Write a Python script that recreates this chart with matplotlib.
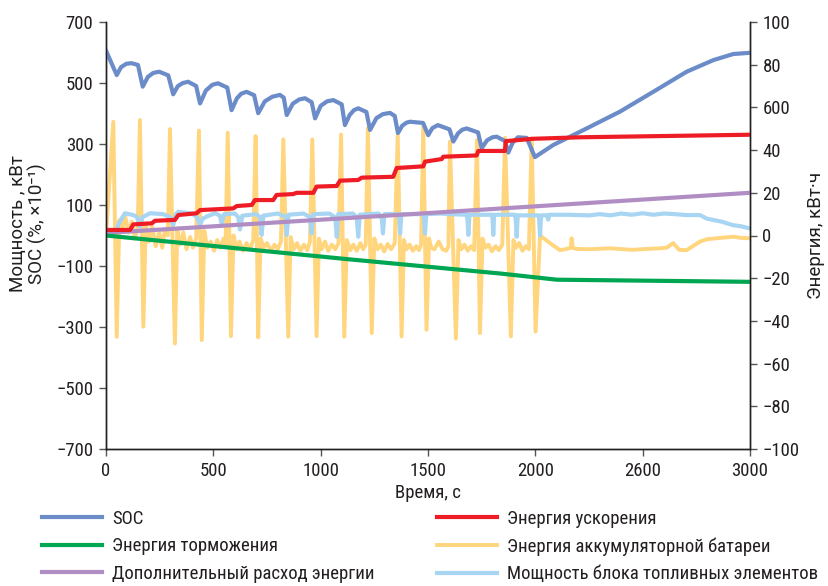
import matplotlib
matplotlib.use('Agg')
import matplotlib.pyplot as plt

plt.rcParams['font.family'] = ['Roboto Condensed', 'Roboto', 'DejaVu Sans']

# SOC (left axis)
soc_t = [0, 50, 70, 95, 119, 149, 171, 195, 220, 248, 290, 313, 335, 358, 383, 420, 438, 465, 495, 522,
         565, 585, 610, 630, 655, 690, 709, 740, 775, 810, 828, 842, 870, 900, 927, 958, 974, 1000, 1030,
         1059, 1098, 1113, 1135, 1155, 1175, 1213, 1230, 1260, 1290, 1323, 1345, 1360, 1380, 1400, 1416,
         1477, 1501, 1520, 1546, 1600, 1618, 1640, 1660, 1680, 1733, 1750, 1775, 1800, 1820, 1858, 1874,
         1895, 1919, 1960, 1998, 2084, 2239, 2394, 2549, 2705, 2829, 2922, 3000]
soc_v = [606, 526, 552, 563, 565, 559, 488, 520, 533, 537, 525, 463, 490, 500, 504, 490, 433, 475, 494, 499,
         485, 411, 450, 465, 471, 460, 401, 440, 455, 461, 452, 395, 432, 446, 450, 437, 384, 425, 440,
         444, 430, 362, 395, 411, 417, 405, 346, 385, 398, 402, 392, 336, 360, 370, 373,
         369, 329, 352, 362, 348, 308, 335, 347, 351, 338, 286, 312, 322, 324, 310, 272,
         305, 322, 320, 257, 297, 351, 406, 471, 537, 575, 595, 599]

# battery power (left axis)
bat_t = [0, 34, 50, 62, 75, 90, 105, 120, 135, 148, 158, 174, 185, 200, 215, 232, 248, 262, 275, 288,
         298, 321, 332, 345, 360, 375, 392, 405, 420, 433, 446, 458, 472, 488, 503, 518, 532, 548, 557,
         567, 582, 594, 608, 622, 638, 655, 670, 686, 697, 709, 720, 735, 750, 768, 785, 800, 815,
         826, 849, 860, 875, 890, 905, 922, 938, 950, 961, 981, 992, 1005, 1020, 1035, 1052, 1068, 1083,
         1095, 1110, 1122, 1138, 1152, 1168, 1185, 1198, 1210, 1220, 1238, 1250, 1265, 1280, 1296, 1312,
         1328, 1345, 1359, 1377, 1388, 1400, 1414, 1430, 1445, 1458, 1468, 1478, 1493, 1505, 1515, 1530,
         1550, 1568, 1585, 1595, 1602, 1630, 1642, 1655, 1670, 1685, 1700, 1715, 1728, 1742, 1754, 1768,
         1782, 1798, 1815, 1830, 1846, 1859, 1886, 1898, 1910, 1925, 1940, 1955, 1970, 1983, 2001, 2022,
         2068, 2115, 2140, 2165, 2169, 2175, 2193, 2250, 2350, 2450, 2520, 2581, 2612, 2642, 2670, 2705,
         2767, 2800, 2845, 2922, 2960, 3000]
bat_v = [0, 373, -332, 50, 20, 60, 10, 45, -10, 30, 379, -299, 40, -20, 30, -35, 10, -40, 20, 0,
         349, -354, 20, -30, 10, -45, -5, -40, -10, 344, -343, 15, -40, -20, -50, -15, -40, -10, -30,
         337, -330, 0, -45, -20, -50, -25, -45, -15, 326, -334, -10, -40, -25, -50, -30, -45, -20,
         315, -332, -5, -45, -25, -50, -30, -48, -20, 315, -330, -10, -45, -20, -50, -30, -45, -25,
         331, -332, -15, -48, -30, -50, -25, -45, -30, 352, -320, -10, -45, -30, -52, -28,
         -45, -25, 329, -331, -15, -45, -30, -50, -35, -48, -30, 356, -309, -10, -40, -45,
         -20, -45, -50, -35, 308, -338, -15, -45, -30, -50, -35, -48, 313, -320, -10, -40,
         -30, -52, -35, -48, -30, 320, -331, -15, -40, -25, -50, -35, -45, 319, -315, 0,
         -25, -48, -45, -40, -9, -41, -44, -45, -42, -47, -44, -42, -40, -25, -47, -48,
         -20, -12, -9, -4, -8, -9]

# fuel cell power (left axis)
fc_t = [0, 45, 60, 88, 127, 145, 158, 170, 205, 267, 300, 313, 325, 337, 400, 425, 438, 450, 469, 508,
        530, 539, 550, 600, 616, 624, 635, 700, 718, 725, 733, 800, 835, 842, 850, 920, 950, 958, 966,
        1040, 1068, 1075, 1082, 1150, 1168, 1175, 1182, 1270, 1285, 1290, 1297, 1360, 1366, 1370, 1376,
        1478, 1482, 1486, 1492, 1560, 1600, 1680, 1684, 1688, 1693, 1798, 1801, 1804, 1808, 1906, 1910,
        1913, 1918, 2016, 2019, 2022, 2027, 2055, 2060, 2065, 2150, 2250, 2300, 2350, 2400, 2450, 2500,
        2550, 2600, 2650, 2700, 2767, 2800, 2829, 2870, 2920, 2960, 3000]
fc_v = [5, 10, 40, 73, 67, 60, 29, 60, 73, 70, 60, 34, 70, 78, 72, 60, 34, 55, 62, 73,
        65, 40, 70, 72, 60, 20, 65, 70, 60, 2, 65, 72, 62, 2, 68, 72, 60, 7, 70,
        72, 60, -4, 70, 72, 60, -4, 68, 72, 55, 7, 70, 70, 55, 7, 70,
        70, 55, 7, 70, 72, 70, 68, 50, 2, 68, 68, 50, 2, 68, 68, 40,
        -4, 66, 66, 40, 0, 66, 66, 52, 68, 68, 66, 70, 66, 72, 68, 73,
        68, 72, 70, 67, 67, 55, 51, 45, 34, 30, 23]

# energies (right axis)
acc_t = [0, 112, 127, 213, 228, 321, 337, 422, 438, 593, 609, 679, 694, 779, 795, 872, 888, 966, 981,
         1075, 1090, 1175, 1191, 1338, 1354, 1478, 1486, 1564, 1571, 1727, 1734, 1858, 1863, 1990, 2208, 3000]
acc_v = [2.6, 2.6, 5.2, 5.7, 6.9, 7.3, 9.6, 10.4, 11.9, 12.7, 13.8, 14.3, 16.6, 16.6, 19.0, 19.4, 20.0, 20.0, 22.9,
         23.2, 25.7, 26.0, 27.1, 27.5, 31.6, 32.4, 34.6, 35.8, 36.9, 37.5, 39.6, 39.6, 44.2, 45.3, 46.0, 47.2]

brk_t = [0, 1137, 1835, 2000, 2100, 3000]
brk_v = [0, -11.2, -17.8, -19.6, -20.7, -21.7]

aux_t = [0, 1500, 3000]
aux_v = [1.2, 10.5, 20.0]

x_ticks = [0, 500, 1000, 1500, 2000, 2500, 3000]
x_labels = ['0', '500', '1000', '1500', '2000', '2600', '3000']
left_ticks = [-700, -500, -300, -100, 100, 300, 500, 700]
right_ticks = [-100, -80, -60, -40, -20, 0, 20, 40, 60, 80, 100]
right_labels = ['\u2212100', '\u221280', '\u221260', '\u221240', '\u221220', '0', '20', '40', '600', '80', '100']

c_soc = '#6b8cc8'
c_acc = '#ee1c25'
c_brk = '#00a651'
c_bat = '#ffd57e'
c_aux = '#b08ec4'
c_fc = '#a8d5f2'
spine_c = '#231f20'
fs = 13.5

fig = plt.figure(figsize=(8.29, 5.86), dpi=100)
ax = fig.add_axes([106 / 829, 1 - 449 / 586, 644 / 829, 427 / 586])
ax2 = ax.twinx()

l_bat, = ax.plot(bat_t, bat_v, color=c_bat, lw=2.8, zorder=1)
l_fc, = ax.plot(fc_t, fc_v, color=c_fc, lw=3.0, zorder=2)
l_soc, = ax.plot(soc_t, soc_v, color=c_soc, lw=3.0, zorder=3)
l_aux, = ax2.plot(aux_t, aux_v, color=c_aux, lw=3.0)
l_brk, = ax2.plot(brk_t, brk_v, color=c_brk, lw=3.0)
l_acc, = ax2.plot(acc_t, acc_v, color=c_acc, lw=3.0)

ax.set_xlim(0, 3000)
ax.set_ylim(-700, 700)
ax2.set_ylim(-100, 100)
ax.set_xticks(x_ticks)
ax.set_xticklabels(x_labels)
ax.set_yticks(left_ticks)
ax.set_yticklabels([str(v).replace('-', '\u2212') for v in left_ticks])
ax2.set_yticks(right_ticks)
ax2.set_yticklabels(right_labels)

for a in (ax, ax2):
    a.spines['top'].set_visible(False)
    for s in ('left', 'right', 'bottom'):
        a.spines[s].set_color(spine_c)
        a.spines[s].set_linewidth(1.0)
    a.tick_params(direction='out', length=5, width=1, color='#555555', labelsize=fs, labelcolor=spine_c,
                  pad=4)

ax.set_xlabel('Время, с', fontsize=fs, color=spine_c, labelpad=3)
lab_font = ['Roboto', 'DejaVu Sans']
fig.text(18 / 829, 1 - 224 / 586, 'Мощность , кВт', rotation=90, ha='center', va='center',
         fontsize=13.5, color=spine_c, family=lab_font)
fig.text(37 / 829, 1 - 224 / 586, 'SOC (%, ×10\u207b\u00b9)', rotation=90, ha='center', va='center',
         fontsize=13.5, color=spine_c, family=lab_font)
fig.text(816 / 829, 1 - 235 / 586, 'Энергия, кВт·ч', rotation=90, ha='center', va='center',
         fontsize=13.5, color=spine_c, family=lab_font)

leg_kw = dict(frameon=False, fontsize=fs, handlelength=3.2, handletextpad=0.55, labelspacing=0.5,
              borderaxespad=0, borderpad=0, labelcolor=spine_c)
fig.legend([l_soc, l_brk, l_aux], ['SOC', 'Энергия торможения', 'Дополнительный расход энергии'],
           loc='upper left', bbox_to_anchor=(42 / 829, 1 - 510 / 586), **leg_kw)
fig.legend([l_acc, l_bat, l_fc], ['Энергия ускорения', 'Энергия аккумуляторной батареи',
                                  'Мощность блока топливных элементов'],
           loc='upper left', bbox_to_anchor=(437 / 829, 1 - 510 / 586), **leg_kw)

fig.savefig('out.png', dpi=100)
